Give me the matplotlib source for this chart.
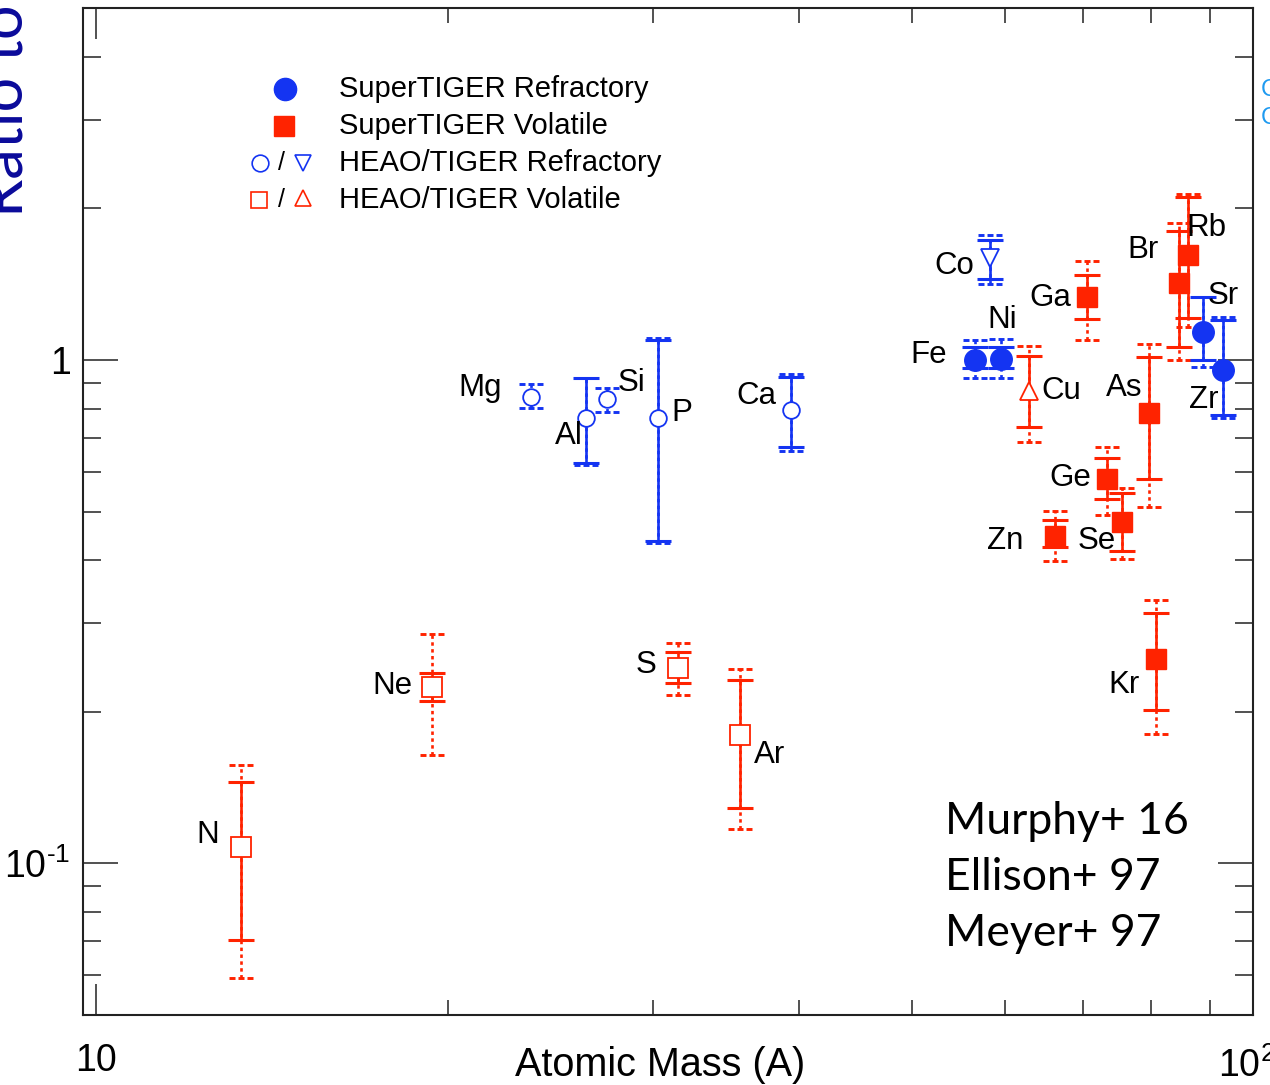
import numpy as np
import matplotlib
matplotlib.use('Agg')
import matplotlib.pyplot as plt
from matplotlib.path import Path
from matplotlib.ticker import FixedLocator, FixedFormatter, NullFormatter

plt.rcParams['font.family'] = ['Liberation Sans', 'DejaVu Sans']
plt.rcParams['mathtext.fontset'] = 'custom'
plt.rcParams['mathtext.rm'] = 'Liberation Sans'

nan = np.nan

# ---------------- data ----------------
elements = ['N', 'Ne', 'Mg', 'Al', 'Si', 'P', 'S', 'Ar', 'Ca', 'Fe', 'Co', 'Ni', 'Cu',
            'Zn', 'Ga', 'Ge', 'As', 'Se', 'Br', 'Kr', 'Rb', 'Sr', 'Zr']
mass = [13.3, 19.4, 23.6, 26.3, 27.4, 30.3, 31.5, 35.6, 39.4, 56.6, 58.3, 59.6, 62.9,
        66.2, 70.6, 73.4, 79.7, 75.6, 84.6, 80.8, 86.1, 88.7, 92.2]
ratio = [0.1076, 0.224, 0.844, 0.767, 0.836, 0.767, 0.244, 0.180, 0.796, 1.000, 1.592, 1.005, 0.868,
         0.447, 1.334, 0.580, 0.785, 0.476, 1.422, 0.255, 1.618, 1.137, 0.955]
stat_lo = [0.0703, 0.210, nan, 0.624, nan, 0.437, 0.228, 0.129, 0.671, 0.964, 1.449, 0.964, 0.736,
           0.425, 1.206, 0.529, 0.580, 0.417, 1.061, 0.202, 1.212, 1.000, 0.777]
stat_hi = [0.1449, 0.239, nan, 0.921, nan, 1.096, 0.263, 0.231, 0.925, 1.061, 1.732, 1.061, 1.018,
           0.481, 1.476, 0.639, 1.014, 0.544, 1.805, 0.314, 2.109, 1.334, 1.201]
tot_lo = [0.0591, 0.164, 0.803, 0.618, 0.788, 0.433, 0.216, 0.117, 0.659, 0.921, 1.416, 0.921, 0.687,
          0.399, 1.096, 0.492, 0.510, 0.402, 1.000, 0.181, 1.163, 0.968, 0.767]
tot_hi = [0.1566, 0.285, 0.896, 0.921, 0.880, 1.106, 0.274, 0.243, 0.938, 1.096, 1.772, 1.101, 1.066,
          0.501, 1.574, 0.671, 1.076, 0.556, 1.873, 0.333, 2.138, 1.334, 1.215]
group = ['HV_sq', 'HV_sq', 'HR_ci', 'HR_ci', 'HR_ci', 'HR_ci', 'HV_sq', 'HV_sq', 'HR_ci', 'SR', 'HR_tri', 'SR', 'HV_tri',
         'SV', 'SV', 'SV', 'SV', 'SV', 'SV', 'SV', 'SV', 'SR', 'SR']

legend_labels = ['SuperTIGER Refractory', 'SuperTIGER Volatile',
                 'HEAO/TIGER Refractory', 'HEAO/TIGER Volatile']
refs = ['Murphy+ 16', 'Ellison+ 97', 'Meyer+ 97']

# ---------------- styling ----------------
BLUE = '#1434f2'
RED = '#ff2300'
W, H = 1270, 1085

styles = {
    'SR': dict(marker='o', ms=15.5, mfc=BLUE, mec=BLUE, mew=1.0, color=BLUE),
    'SV': dict(marker='s', ms=14.0, mfc=RED, mec=RED, mew=1.0, color=RED),
    'HR_ci': dict(marker='o', ms=12.0, mfc='white', mec=BLUE, mew=1.3, color=BLUE),
    'HR_tri': dict(marker='v', ms=13.0, mfc='white', mec=BLUE, mew=1.3, color=BLUE),
    'HV_sq': dict(marker='s', ms=13.8, mfc='white', mec=RED, mew=1.3, color=RED),
    'HV_tri': dict(marker='^', ms=13.0, mfc='white', mec=RED, mew=1.3, color=RED),
}

# label offsets in pixels (label centre relative to the point)
label_offsets = {
    'N': (-33, 12), 'Ne': (-40, 1), 'Mg': (-51, 9), 'Al': (-18, -18), 'Si': (24, 16),
    'P': (24, 5), 'S': (-32, 3), 'Ar': (30, -20), 'Ca': (-35, 14), 'Fe': (-46, 5),
    'Co': (-36, -8), 'Ni': (1, 39), 'Cu': (33, 0), 'Zn': (-49, -5), 'Ga': (-37, -1),
    'Ge': (-37, 1), 'As': (-25, 25), 'Se': (-25, -19), 'Br': (-36, 33), 'Kr': (-32, -26),
    'Rb': (19, 27), 'Sr': (20, 36), 'Zr': (-19, -30),
}

dotted_cap = Path([(-1, 0), (-0.5, 0), (-0.22, 0), (0.22, 0), (0.5, 0), (1, 0)],
                  [Path.MOVETO, Path.LINETO, Path.MOVETO, Path.LINETO, Path.MOVETO, Path.LINETO])

fig = plt.figure(figsize=(W / 100, H / 100), dpi=100)
ax = fig.add_axes([83 / W, 1 - 1015 / H, 1170 / W, 1007 / H])
ax.set_xscale('log')
ax.set_yscale('log')
ax.set_xlim(9.747, 97.9)
ax.set_ylim(0.05, 5.0)

x = np.array(mass)
y = np.array(ratio)
slo = np.array(stat_lo); shi = np.array(stat_hi)
tlo = np.array(tot_lo); thi = np.array(tot_hi)
g = np.array(group)

for key, st in styles.items():
    idx = np.where(g == key)[0]
    if len(idx) == 0:
        continue
    c = st['color']
    # total (dotted) error bars
    ax.vlines(x[idx], tlo[idx], thi[idx], colors=c, linewidth=1.9,
              linestyles=(0, (1.3, 1.3)), zorder=2)
    for arr in (tlo, thi):
        ax.plot(x[idx], arr[idx], linestyle='none', marker=dotted_cap, ms=17,
                mew=2.1, mec=c, mfc='none', zorder=2)
    # statistical (solid) error bars
    ok = idx[~np.isnan(slo[idx])]
    if len(ok):
        ax.errorbar(x[ok], y[ok], yerr=[y[ok] - slo[ok], shi[ok] - y[ok]], fmt='none',
                    ecolor=c, elinewidth=1.9, capsize=9.5, capthick=2.2, zorder=3)
    ax.plot(x[idx], y[idx], linestyle='none', marker=st['marker'], ms=st['ms'],
            mfc=st['mfc'], mec=st['mec'], mew=st['mew'], zorder=4)

for el, xi, yi in zip(elements, mass, ratio):
    dx, dy = label_offsets[el]
    ax.annotate(el, (xi, yi), xytext=(dx, dy), textcoords='offset pixels',
                ha='center', va='center', fontsize=22.5, color='black', zorder=5)

# axes styling
for sp in ax.spines.values():
    sp.set_linewidth(1.5)
    sp.set_color('#222222')
ax.xaxis.set_major_locator(FixedLocator([10]))
ax.xaxis.set_major_formatter(FixedFormatter(['10']))
ax.xaxis.set_minor_locator(FixedLocator([20, 30, 40, 50, 60, 70, 80, 90]))
ax.xaxis.set_minor_formatter(NullFormatter())
ax.yaxis.set_major_locator(FixedLocator([0.1, 1.0]))
ax.yaxis.set_major_formatter(FixedFormatter(['$\\mathregular{10^{\u20101}}$', '1']))
ax.yaxis.set_minor_locator(FixedLocator([0.06, 0.07, 0.08, 0.09, 0.2, 0.3, 0.4, 0.5,
                                         0.6, 0.7, 0.8, 0.9, 2, 3, 4]))
ax.yaxis.set_minor_formatter(NullFormatter())
ax.tick_params(which='both', direction='in', top=True, right=True, color='#222222', width=1.1)
ax.tick_params(axis='x', which='major', length=22, pad=20, labelsize=27)
ax.tick_params(axis='x', which='minor', length=11)
ax.tick_params(axis='y', which='major', length=25, pad=9, labelsize=27)
ax.tick_params(axis='y', which='minor', length=13)

ax.set_xlabel('Atomic Mass (A)', fontsize=28.5)
ax.xaxis.set_label_coords((660 - 83) / 1170, (1015 - 1046) / 1007)
fig.text(1247 / W, 1 - 1077 / H, r'$\mathregular{10^{2}}$', ha='center', va='baseline',
         fontsize=27)

# cropped y-axis title (dark blue)
fig.text(23 / W, 1 - 217 / H, 'Ratio to Solar System', rotation=90, rotation_mode='anchor',
         ha='left', va='baseline', fontsize=44, color='#0a0a9a', family=['Lato', 'DejaVu Sans'])
# cropped light-blue text at the right edge
for py in (90, 118):
    fig.text(1261 / W, 1 - py / H, 'C', ha='left', va='center', fontsize=17, color='#1e9af0')

# legend (hand-built, as in the original)
def fx(px):
    return px / W

def fy(py):
    return 1 - py / H

leg_rows = [89, 126, 163, 200]
ax.plot([fx(285)], [fy(leg_rows[0])], transform=fig.transFigure, clip_on=False, marker='o',
        ms=16, mfc=BLUE, mec=BLUE, linestyle='none')
ax.plot([fx(284)], [fy(leg_rows[1])], transform=fig.transFigure, clip_on=False, marker='s',
        ms=14, mfc=RED, mec=RED, linestyle='none')
ax.plot([fx(260)], [fy(leg_rows[2])], transform=fig.transFigure, clip_on=False, marker='o',
        ms=12, mfc='white', mec=BLUE, mew=1.2, linestyle='none')
ax.plot([fx(303)], [fy(leg_rows[2])], transform=fig.transFigure, clip_on=False, marker='v',
        ms=12, mfc='white', mec=BLUE, mew=1.2, linestyle='none')
ax.plot([fx(259)], [fy(leg_rows[3])], transform=fig.transFigure, clip_on=False, marker='s',
        ms=11.5, mfc='white', mec=RED, mew=1.2, linestyle='none')
ax.plot([fx(303)], [fy(leg_rows[3] - 2)], transform=fig.transFigure, clip_on=False, marker='^',
        ms=12, mfc='white', mec=RED, mew=1.2, linestyle='none')
for r in leg_rows[2:]:
    fig.text(fx(281), fy(r), '/', ha='center', va='center', fontsize=18)
for r, lab in zip(leg_rows, legend_labels):
    fig.text(fx(339), fy(r), lab, ha='left', va='center', fontsize=21)

for i, ref in enumerate(refs):
    fig.text(fx(945), fy(822 + 56 * i), ref, ha='left', va='center', fontsize=32,
             family=['Lato', 'DejaVu Sans'])

fig.savefig('out.png', dpi=100)
